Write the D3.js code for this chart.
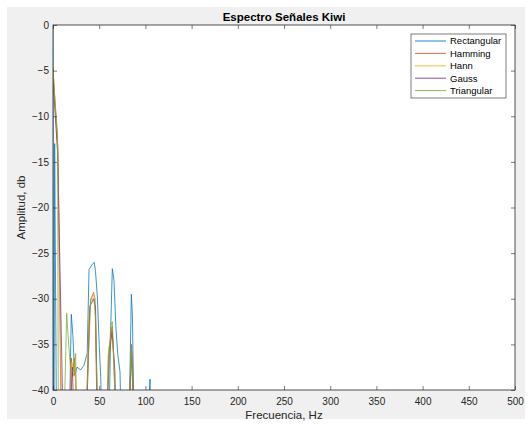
<!DOCTYPE html>
<html>
<head>
<meta charset="utf-8">
<script src="https://cdn.jsdelivr.net/npm/d3@7"></script>
<style>
  body { margin: 0; background: #fff; }
  text { font-family: "Liberation Sans", Arial, sans-serif; }
</style>
</head>
<body>
<div id="chart"></div>
<script>
// data (values below -40 dB are clipped by the axes)
const seriesNames = ["Rectangular", "Hamming", "Hann", "Gauss", "Triangular"];
const seriesColors = ["#0072BD", "#D95319", "#EDB120", "#7E2F8E", "#77AC30"];

const freqRect = [0, 0.8, 1.8, 4, 17, 19.8, 21.5, 23.5, 26, 30, 33.5, 37, 39, 42, 44.6, 46, 48, 50, 51.6, 53, 60.6, 62.5, 64.2, 66, 68, 70, 72.5, 74, 82.3, 84.8, 86, 87.7, 103.5, 105, 105.6];
const dbRect   = [0, -60, -13, -48, -48, -31.7, -34, -38.4, -37.5, -37.8, -37.3, -36, -26.8, -26.3, -26, -27, -29.8, -35, -38.5, -44, -44, -33, -26.7, -28, -33, -36, -38, -45, -44, -29.5, -32, -44, -42, -38.8, -45];

const freqHamming = [0, 5.4, 9, 18, 20, 21, 23, 24.5, 26, 36, 38.5, 41, 44, 45.5, 48, 58, 60, 64, 66, 68, 82, 85, 87, 88];
const dbHamming   = [-4.7, -13.7, -45, -44, -36.5, -38.5, -36.5, -39, -45, -44, -33, -30, -29.3, -30, -45, -44, -36, -33, -37, -45, -44, -35, -40, -45];

const freqHann = [0, 5.5, 9.5, 18, 20.5, 22, 24, 25.5, 36, 39, 41.5, 44.3, 46, 48.5, 58, 60, 64, 66, 68.5, 82, 85, 88];
const dbHann   = [-5, -14.5, -45, -44, -37, -38.5, -37, -45, -44, -31.5, -30, -29.6, -31, -45, -44, -35.5, -33.8, -37.5, -45, -44, -36, -45];

const freqGauss = [0, 5, 10, 11, 18, 21, 23, 36, 40, 44, 46, 48.5, 58, 61, 64, 67, 68.5, 82, 85, 88];
const dbGauss   = [-6, -14, -39, -45, -44, -37.5, -45, -44, -30.8, -30, -31, -45, -44, -36, -33.6, -38, -45, -44, -35.5, -45];

const freqTri = [0, 5, 5.8, 12.6, 14.8, 17, 19.1, 22, 24.5, 26, 36.5, 40.8, 44.4, 46, 48, 58.8, 62.4, 64.2, 67.8, 82, 84.8, 87.5];
const dbTri   = [-5.5, -12, -45, -41, -31.6, -35, -37.8, -38, -36, -45, -41, -30.1, -30, -32, -42, -41, -33, -32.5, -42, -42, -35.5, -42];

const xTicks = [0, 50, 100, 150, 200, 250, 300, 350, 400, 450, 500];
const yTicks = [0, -5, -10, -15, -20, -25, -30, -35, -40];

const series = [
  {name: seriesNames[0], color: seriesColors[0], f: freqRect, db: dbRect},
  {name: seriesNames[1], color: seriesColors[1], f: freqHamming, db: dbHamming},
  {name: seriesNames[2], color: seriesColors[2], f: freqHann, db: dbHann},
  {name: seriesNames[3], color: seriesColors[3], f: freqGauss, db: dbGauss},
  {name: seriesNames[4], color: seriesColors[4], f: freqTri, db: dbTri}
];

const W = 530, H = 425;
const margin = {top: 25, right: 15, bottom: 35, left: 53},
    width = W - margin.left - margin.right,
    height = H - margin.top - margin.bottom;

const svg = d3.select("#chart")
    .append("svg")
    .attr("width", W)
    .attr("height", H);

// figure background
svg.append("rect")
    .attr("x", 7).attr("y", 7)
    .attr("width", 518).attr("height", 412)
    .attr("fill", "#f0f0f0");

const g = svg.append("g")
    .attr("transform", `translate(${margin.left},${margin.top})`);

g.append("rect")
    .attr("width", width).attr("height", height)
    .attr("fill", "#fff");

const x = d3.scaleLinear().domain([0, 500]).range([0, width]);
const y = d3.scaleLinear().domain([-40, 0]).range([height, 0]);

g.append("clipPath").attr("id", "clip")
    .append("rect").attr("width", width).attr("height", height);

const line = d3.line()
    .x(d => x(d[0]))
    .y(d => y(d[1]));

g.append("g")
    .attr("clip-path", "url(#clip)")
    .selectAll("path")
    .data(series)
    .enter()
    .append("path")
    .attr("fill", "none")
    .attr("stroke", d => d.color)
    .attr("stroke-width", 0.85)
    .attr("stroke-opacity", 0.9)
    .attr("stroke-linejoin", "round")
    .attr("d", d => line(d.f.map((f, i) => [f, d.db[i]])));

// axes, ticks pointing inward like matlab
function styleAxis(sel) {
    sel.select(".domain").remove();
    sel.selectAll(".tick line").attr("stroke", "#262626").attr("stroke-width", 0.6);
    sel.selectAll("text").attr("fill", "#262626").attr("font-size", "10px")
        .style("font-family", "'Liberation Sans', Arial, sans-serif");
}

g.append("g")
    .attr("transform", `translate(0,${height})`)
    .call(d3.axisBottom(x).tickValues(xTicks).tickSize(-4).tickPadding(8))
    .call(styleAxis);

g.append("g")
    .call(d3.axisTop(x).tickValues(xTicks).tickSize(-4).tickFormat(""))
    .call(styleAxis);

g.append("g")
    .call(d3.axisLeft(y).tickValues(yTicks).tickSize(-4).tickPadding(4))
    .call(styleAxis);

g.append("g")
    .attr("transform", `translate(${width},0)`)
    .call(d3.axisRight(y).tickValues(yTicks).tickSize(-4).tickFormat(""))
    .call(styleAxis);

g.append("rect")
    .attr("width", width).attr("height", height)
    .attr("fill", "none")
    .attr("stroke", "#262626")
    .attr("stroke-width", 0.8);

// title + labels
svg.append("text")
    .attr("x", margin.left + width / 2)
    .attr("y", 20.5)
    .attr("text-anchor", "middle")
    .attr("font-size", "11.5px")
    .attr("font-weight", "bold")
    .attr("fill", "#000")
    .text("Espectro Señales Kiwi");

svg.append("text")
    .attr("x", margin.left + width / 2)
    .attr("y", 419)
    .attr("text-anchor", "middle")
    .attr("font-size", "11.5px")
    .attr("fill", "#262626")
    .text("Frecuencia, Hz");

svg.append("text")
    .attr("transform", `translate(25,${margin.top + height / 2}) rotate(-90)`)
    .attr("text-anchor", "middle")
    .attr("font-size", "11.5px")
    .attr("fill", "#262626")
    .text("Amplitud, db");

// legend
const legend = svg.append("g").attr("transform", "translate(411,34)");
legend.append("rect")
    .attr("width", 95).attr("height", 64)
    .attr("fill", "#fff")
    .attr("stroke", "#262626")
    .attr("stroke-width", 0.6);

const rows = legend.selectAll(".row")
    .data(series)
    .enter()
    .append("g")
    .attr("transform", (d, i) => `translate(0,${7 + i * 12.4})`);

rows.append("line")
    .attr("x1", 4).attr("x2", 35)
    .attr("stroke", d => d.color)
    .attr("stroke-width", 0.85);

rows.append("text")
    .attr("x", 39)
    .attr("dy", "0.35em")
    .attr("font-size", "9.5px")
    .attr("fill", "#000")
    .text(d => d.name);
</script>
</body>
</html>
